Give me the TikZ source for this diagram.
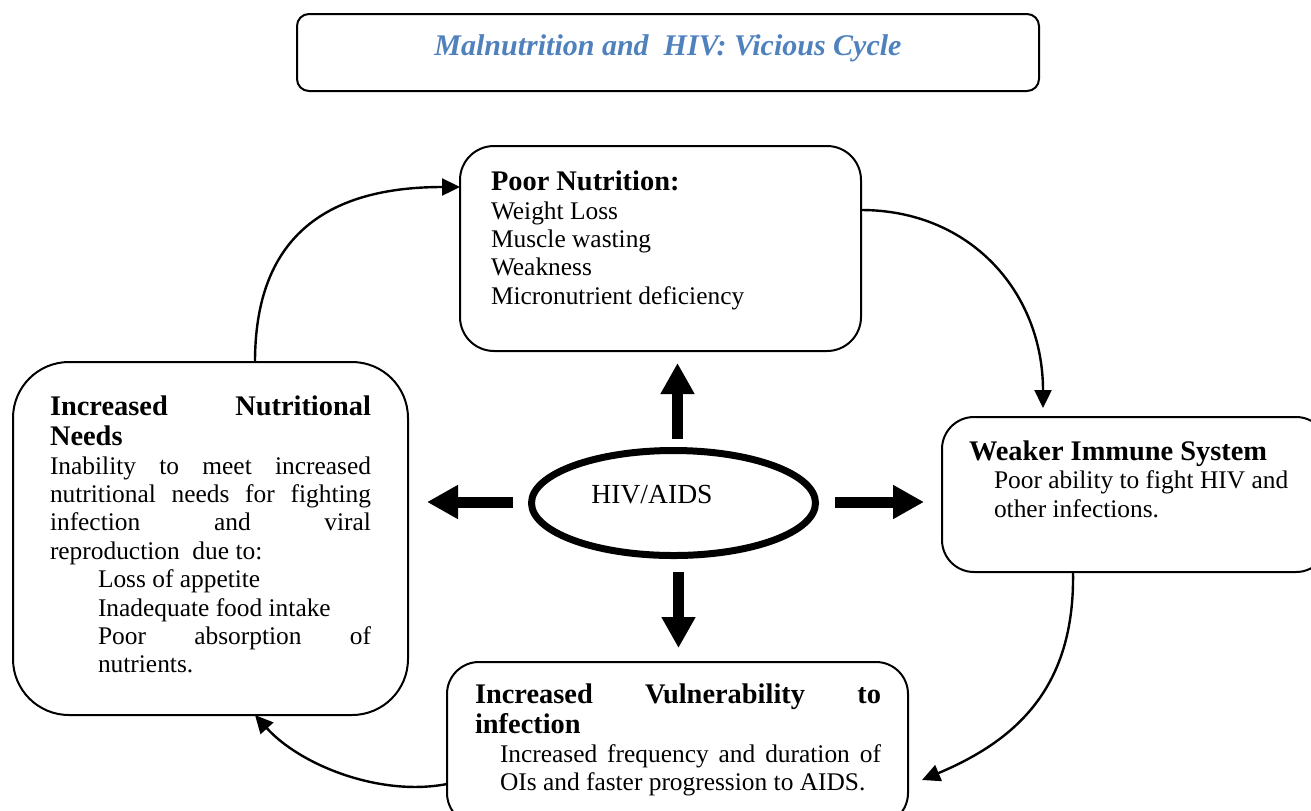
\documentclass[tikz,border=0pt]{standalone}
\usepackage{fontspec}
\setmainfont{Liberation Serif}
\usetikzlibrary{arrows.meta,shapes.geometric,calc}
\definecolor{titleblue}{RGB}{79,129,189}
\newcommand{\bodyfnt}{\fontsize{12.7}{14.2}\selectfont\mdseries}
\newcommand{\headfnt}{\fontsize{14.2}{15}\selectfont\bfseries}
\newcommand{\jline}[1]{\hbox to\hsize{#1}}
\begin{document}
\begin{tikzpicture}[x=0.5pt,y=-0.5pt,
  box/.style={draw,line width=1pt,inner sep=0pt,outer sep=0pt},
  txt/.style={inner sep=0pt,outer sep=0pt,anchor=base west},
  cyc/.style={line width=1.2pt,-{Triangle[length=9pt,width=8.5pt]}},
  big/.style={line width=5.5pt,-{Triangle[length=15.5pt,width=16pt]}}]
\useasboundingbox (0,0) rectangle (1311,810);

% title
\node[box,rounded corners=6pt,minimum width=371pt,minimum height=38.5pt] (title) at (668,52.5) {};
\node[inner sep=0pt,anchor=base,text=titleblue,font=\fontsize{15}{18}\selectfont\bfseries\itshape] (titletext) at (668,55) {Malnutrition and\ \ HIV: Vicious Cycle};

% boxes
\node[box,rounded corners=17pt,minimum width=200.5pt,minimum height=102.5pt] (pn) at (660.5,248.5) {};
\node[box,rounded corners=28pt,minimum width=197.5pt,minimum height=176.5pt] (nn) at (210.5,538.5) {};
\node[box,rounded corners=16pt,minimum width=193pt,minimum height=77.5pt] (wi) at (1135,494.5) {};
\node[box,rounded corners=16pt,minimum width=230.5pt,minimum height=81.5pt] (vi) at (677.5,743.5) {};

% centre ellipse
\node[draw,ellipse,line width=3.5pt,inner sep=0pt,outer sep=0pt,minimum width=142pt,minimum height=52.5pt] (hiv) at (673.5,503) {};
\node[inner sep=0pt,anchor=base,font=\fontsize{13.8}{16}\selectfont] (hivtext) at (652,503) {HIV/AIDS};

% box texts
\node[txt] (pntext) at (491,190) {\vtop{\hsize=180pt
  \headfnt\hbox{Poor Nutrition:}
  \bodyfnt\baselineskip=14.5pt
  \hbox{Weight Loss}
  \baselineskip=14.2pt
  \hbox{Muscle wasting}
  \hbox{Weakness}
  \hbox{Micronutrient deficiency}}};

\node[txt] (nntext) at (50,415) {\vtop{\hsize=160.5pt
  \headfnt\baselineskip=15pt
  \jline{Increased\hfill Nutritional}
  \hbox{Needs}
  \bodyfnt\baselineskip=14.5pt
  \jline{Inability\hfill to\hfill meet\hfill increased}
  \baselineskip=14.2pt
  \jline{nutritional\hfill needs\hfill for\hfill fighting}
  \jline{infection\hfill and\hfill viral}
  \hbox{reproduction\ \ due to:}
  \hbox{\hskip24pt Loss of appetite}
  \hbox{\hskip24pt Inadequate food intake}
  \jline{\hskip24pt Poor\hfill absorption\hfill of}
  \hbox{\hskip24pt nutrients.}}};

\node[txt] (witext) at (969,460) {\vtop{\hsize=170pt
  \headfnt\hbox{Weaker Immune System}
  \bodyfnt\baselineskip=14pt
  \hbox{\hskip12.5pt Poor ability to fight HIV and}
  \baselineskip=14.5pt
  \hbox{\hskip12.5pt other infections.}}};

\node[txt] (vitext) at (475,703) {\vtop{\hsize=203pt
  \headfnt\baselineskip=15pt
  \jline{Increased\hfill Vulnerability\hfill to}
  \hbox{infection}
  \bodyfnt\baselineskip=14.5pt
  \jline{\hskip12.5pt Increased frequency and duration of}
  \baselineskip=14pt
  \hbox{\hskip12.5pt OIs and faster progression to AIDS.}}};

% cycle connectors
\draw[cyc] ($(nn.north west)+(242,0)$) .. controls +(0,-115) and +(-145,0) .. ($(pn.north west)+(0,41)$);
\draw[cyc] ($(pn.north east)+(0,64)$) .. controls +(110,0) and +(0,-115) .. ($(wi.north west)+(101,-9)$);
\draw[cyc] ($(wi.south west)+(131,0)$) .. controls +(2,115) and +(95,-40) .. ($(vi.north east)+(14,118)$);
\draw[cyc] ($(vi.north west)+(0,122)$) .. controls +(-67,13) and +(45,50) .. ($(nn.south west)+(242,0)$);

% thick arrows from HIV/AIDS
\draw[big] ($(hiv.north)+(4,-11.5)$) -- ($(pn.south)+(17,12)$);
\draw[big] ($(hiv.south)+(5,16.5)$) -- ($(vi.north)+(1,-14)$);
\draw[big] ($(hiv.west)+(-18.5,-1)$) -- ($(nn.east)+(19,-36.5)$);
\draw[big] ($(hiv.east)+(19.5,-1)$) -- ($(wi.west)+(-18,7.5)$);
\end{tikzpicture}
\end{document}
